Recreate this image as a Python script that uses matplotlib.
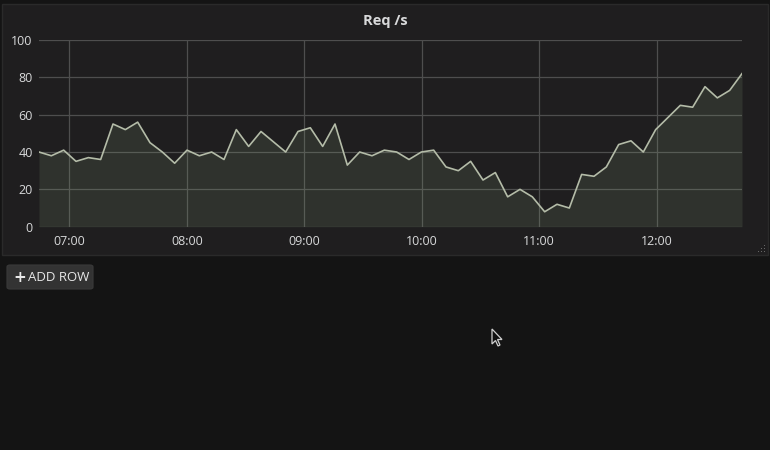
import matplotlib
matplotlib.use("Agg")
import matplotlib.pyplot as plt
import matplotlib.dates as mdates
from matplotlib.patches import Rectangle, FancyBboxPatch, Polygon
import pandas as pd

# ---- data ----
title = "Req /s"
start_time = "2024-01-01 06:44:30"
step_seconds = 378
req_per_s = [40, 38, 41, 35, 37, 36, 55, 52, 56, 45,
             40, 34, 41, 38, 40, 36, 52, 43, 51, 45.5,
             40, 51, 53, 43, 55, 33, 40, 38, 41, 40,
             36, 40, 41, 32, 30, 35, 25, 29, 16, 20,
             16, 8, 12, 10, 28, 27, 32, 44, 46, 40,
             52, 58.5, 65, 64, 75, 69, 73, 82]
y_ticks = [0, 20, 40, 60, 80, 100]
button_label = "ADD ROW"

times = pd.date_range(start_time, periods=len(req_per_s), freq=f"{step_seconds}s")

W, H = 770, 450
BG = "#141414"
PANEL = "#1f1e1f"
TEXT = "#d8d9da"
GRID = "#4e4e4e"
LINE = "#b4bca8"
FILL = "#8fa880"

plt.rcParams["font.family"] = ["Open Sans", "DejaVu Sans"]

fig = plt.figure(figsize=(W / 100, H / 100), dpi=100, facecolor=BG)


def fx(x):
    return x / W


def fy(y):
    return 1 - y / H


# panel background
fig.patches.append(Rectangle((fx(2), fy(255)), fx(766), 251 / H, transform=fig.transFigure,
                             facecolor=PANEL, edgecolor="#2a2a2a", lw=1, zorder=-5))

# title
fig.text(fx(385), fy(21), title, ha="center", va="center", color=TEXT,
         fontsize=10.5, fontweight="bold")

# axes
left, right, top, bottom = 39, 742, 40, 226.7
ax = fig.add_axes([fx(left), fy(bottom), (right - left) / W, (bottom - top) / H])
ax.set_zorder(1)
ax.set_facecolor(PANEL)
ax.patch.set_alpha(0)

ax.fill_between(times, 0, req_per_s, color=FILL, alpha=0.15, lw=0, zorder=2)
ax.plot(times, req_per_s, color=LINE, lw=1.2, zorder=3)

ax.set_xlim(times[0], times[-1])
ax.set_ylim(0, 100)
ax.set_yticks(y_ticks)
ax.xaxis.set_major_locator(mdates.HourLocator())
ax.xaxis.set_major_formatter(mdates.DateFormatter("%H:%M"))
ax.grid(True, color=GRID, lw=0.9, zorder=1)
ax.set_axisbelow(True)
for s in ax.spines.values():
    s.set_visible(False)
ax.tick_params(axis="both", length=0, colors=TEXT, labelsize=9)
ax.tick_params(axis="y", pad=4.5)
ax.tick_params(axis="x", pad=6)

# resize handle dots
for (dx, dy) in [(0, 0), (-3, 0), (-6, 0), (0, -3), (-3, -3), (0, -6)]:
    fig.patches.append(Rectangle((fx(764 + dx), fy(252 + dy)), 1.2 / W, 1.2 / H,
                                 transform=fig.transFigure, facecolor="#666666",
                                 edgecolor="none", zorder=2))

# ADD ROW button
fig.patches.append(FancyBboxPatch((fx(7), fy(289)), fx(86), 24 / H,
                                  boxstyle="round,pad=0,rounding_size=0.004",
                                  transform=fig.transFigure, facecolor="#333333",
                                  edgecolor="#3a3a3a", lw=0.8, zorder=1))
fig.text(fx(20), fy(277.5), "+", ha="center", va="center", color="#e8e8e8",
         fontsize=11, fontweight="bold", family=["DejaVu Sans"])
fig.text(fx(28.5), fy(277.5), button_label, ha="left", va="center", color="#e8e8e8",
         fontsize=9.5)

# mouse cursor
cx, cy = 492, 329
pts = [(0, 0), (0, 15), (3.5, 11.5), (6, 17), (8, 16), (5.5, 10.5), (10, 10.5)]
fig.patches.append(Polygon([(fx(cx + a), fy(cy + b)) for a, b in pts], closed=True,
                           transform=fig.transFigure, facecolor="#111111",
                           edgecolor="#d0d0d0", lw=0.9, zorder=3))

fig.savefig("out.png", dpi=100, facecolor=BG)
